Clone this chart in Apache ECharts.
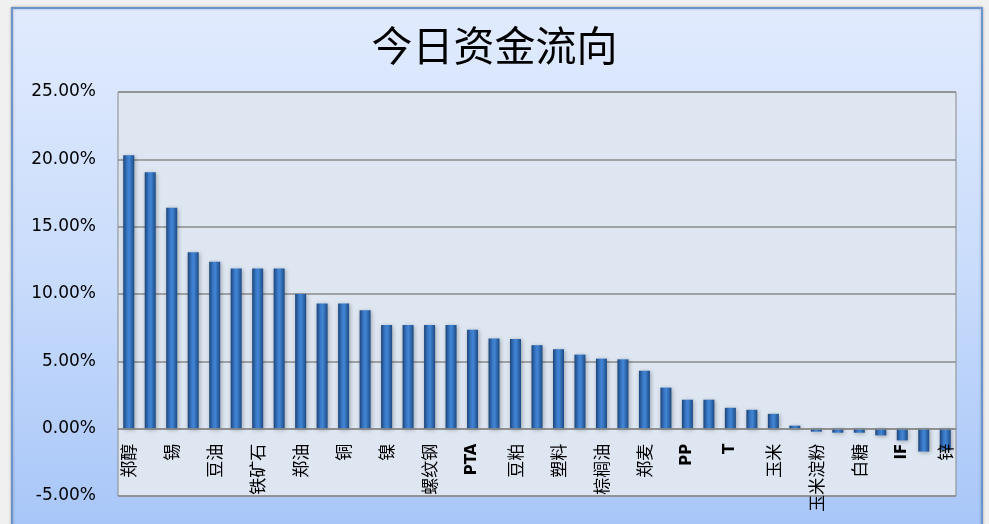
<!DOCTYPE html>
<html>
<head>
<meta charset="utf-8">
<script src="https://cdn.jsdelivr.net/npm/echarts@6/dist/echarts.min.js"></script>
<style>
html,body{margin:0;padding:0;background:#f0f0f0;}
#chart{width:989px;height:524px;}
</style>
</head>
<body>
<div id="chart"></div>
<script>
// Categories (every other one is labelled in the reference; unlabelled ones use placeholders)
const categories = [
  '郑醇','品种2','锡','品种4','豆油','品种6','铁矿石','品种8','郑油','品种10',
  '铜','品种12','镍','品种14','螺纹钢','品种16','PTA','品种18','豆粕','品种20',
  '塑料','品种22','棕榈油','品种24','郑麦','品种26','PP','品种28','T','品种30',
  '玉米','品种32','玉米淀粉','品种34','白糖','品种36','IF','品种38','锌'
];
// Fund flow, percent
const values = [
  20.3, 19.05, 16.4, 13.1, 12.4, 11.9, 11.9, 11.9, 10.0, 9.3,
  9.3, 8.8, 7.7, 7.7, 7.7, 7.7, 7.35, 6.7, 6.65, 6.2,
  5.9, 5.5, 5.2, 5.15, 4.3, 3.05, 2.15, 2.15, 1.55, 1.4,
  1.1, 0.05, -0.05, -0.3, -0.3, -0.5, -0.87, -1.7, -1.6
];
const yTicks = { min: -5, max: 25, interval: 5 };
const titleText = '今日资金流向';

const chart = echarts.init(document.getElementById('chart'), null, {renderer: 'canvas'});
const barGrad = new echarts.graphic.LinearGradient(0, 0, 1, 0, [
  {offset: 0, color: '#1b4479'},
  {offset: 0.35, color: '#3a78c6'},
  {offset: 0.55, color: '#4185d4'},
  {offset: 1, color: '#1d4a84'}
]);
const gridTop = 92, gridBottom = 28, H = 524;
const plotH = H - gridTop - gridBottom;
const zeroOffset = -plotH * (0 - yTicks.min) / (yTicks.max - yTicks.min);
chart.setOption({
  animation: false,
  backgroundColor: 'transparent',
  graphic: [{
    type: 'rect',
    z: -10,
    shape: {x: 12, y: 8, width: 970, height: 530},
    style: {
      fill: new echarts.graphic.LinearGradient(0, 0, 0, 1, [
        {offset: 0, color: '#e1ebfe'},
        {offset: 0.5, color: '#c9dcfb'},
        {offset: 1, color: '#a6c5f8'}
      ]),
      stroke: '#6b93cc',
      lineWidth: 2,
      shadowBlur: 3,
      shadowColor: 'rgba(0,0,0,0.25)'
    }
  }],
  title: {
    text: titleText,
    left: 'center',
    top: 20,
    textStyle: {
      fontFamily: 'Noto Sans CJK SC',
      fontSize: 41,
      fontWeight: 'normal',
      color: '#000'
    }
  },
  grid: {
    left: 118, top: gridTop, right: 33, bottom: gridBottom,
    show: true,
    backgroundColor: '#dde6f1',
    borderColor: '#8a8a8a',
    borderWidth: 1,
    containLabel: false,
    outerBoundsMode: 'none'
  },
  xAxis: {
    type: 'category',
    data: categories,
    position: 'bottom',
    offset: zeroOffset,
    z: 5,
    axisLine: {onZero: false, lineStyle: {color: '#8a8a8a', width: 1.5}},
    axisTick: {show: false},
    axisLabel: {
      interval: 1,
      rotate: 90,
      margin: 15,
      fontFamily: 'Noto Sans CJK SC',
      fontSize: 17,
      color: '#000',
      formatter: function (v) {
        return /^[A-Za-z]+$/.test(v) ? '{b|' + v + '}' : v;
      },
      rich: {
        b: {fontFamily: 'DejaVu Sans', fontWeight: 'bold', fontSize: 15, color: '#000'}
      }
    }
  },
  yAxis: {
    type: 'value',
    min: yTicks.min,
    max: yTicks.max,
    interval: yTicks.interval,
    axisLine: {show: false},
    axisTick: {show: false},
    splitLine: {lineStyle: {color: '#8a8a8a', width: 1.5}},
    axisLabel: {
      margin: 22,
      fontFamily: 'DejaVu Sans',
      fontSize: 17,
      color: '#000',
      formatter: function (v) { return v.toFixed(2) + '%'; }
    }
  },
  series: [{
    type: 'bar',
    data: values,
    barWidth: 11,
    barMinHeight: 3,
    itemStyle: {
      color: barGrad,
      shadowBlur: 4,
      shadowColor: 'rgba(0,0,0,0.3)',
      shadowOffsetX: 1,
      shadowOffsetY: 1
    }
  }]
});
</script>
</body>
</html>
